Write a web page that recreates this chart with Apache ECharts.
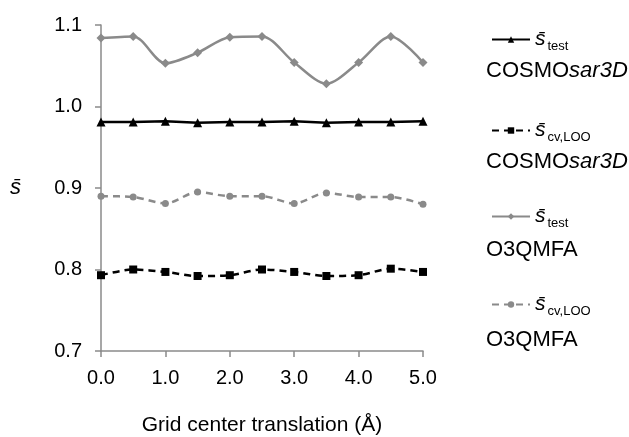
<!DOCTYPE html>
<html>
<head>
<meta charset="utf-8">
<script src="https://cdn.jsdelivr.net/npm/echarts@6/dist/echarts.min.js"></script>
<style>
html, body { margin: 0; padding: 0; background: #fff; }
#chart { width: 629px; height: 437px; }
</style>
</head>
<body>
<div id="chart"></div>
<script>
// grid translation steps (Å)
var shifts = [0, 0.5, 1, 1.5, 2, 2.5, 3, 3.5, 4, 4.5, 5];
var cosmoTest = [0.981, 0.981, 0.982, 0.980, 0.981, 0.981, 0.982, 0.980, 0.981, 0.981, 0.982];
var cosmoLoo  = [0.793, 0.800, 0.797, 0.792, 0.793, 0.800, 0.797, 0.792, 0.793, 0.801, 0.797];
var o3Test    = [1.084, 1.086, 1.053, 1.066, 1.085, 1.086, 1.054, 1.028, 1.054, 1.086, 1.054];
var o3Loo     = [0.890, 0.889, 0.881, 0.895, 0.890, 0.890, 0.881, 0.894, 0.889, 0.889, 0.880];

var FONT = '"Liberation Sans", Arial, sans-serif';
var GREY = '#8a8a8a';
var SBAR = 's\u0304';

function pairs(ys){
    return shifts.map(function(x, i){ return [x, ys[i]]; });
}

var chart = echarts.init(document.getElementById('chart'));

var subRich = {
    s: { fontFamily: FONT, fontStyle: 'italic', fontSize: 21, color: '#000', padding: [0, 2, 0, 0] },
    sub: { fontFamily: FONT, fontSize: 13, color: '#000', padding: [13, 0, 0, 0] }
};

function makeLegend(name, top){
    return {
        data: [name],
        left: 486,
        top: top,
        itemWidth: 38,
        itemHeight: 8,
        itemGap: 0,
        selectedMode: false,
        textStyle: { rich: subRich },
        formatter: function(n){
            return '{s|' + SBAR + '}{sub|' + (n.indexOf('LOO') >= 0 ? 'cv,LOO' : 'test') + '}';
        }
    };
}

var methodRich = {
    a: { fontFamily: FONT, fontSize: 22, fill: '#000' },
    b: { fontFamily: FONT, fontSize: 22, fontStyle: 'italic', fill: '#000' }
};

var option = {
    animation: false,
    backgroundColor: '#fff',
    textStyle: { fontFamily: FONT },
    grid: { left: 101, right: 206, top: 25, bottom: 86, outerBoundsMode: 'none', containLabel: false },
    legend: [
        makeLegend('COSMO test', 24),
        makeLegend('COSMO LOO', 115),
        makeLegend('O3QMFA test', 201),
        makeLegend('O3QMFA LOO', 289)
    ],
    graphic: [
        { type: 'text', left: 486, top: 60, style: { rich: methodRich, text: '{a|COSMO}{b|sar3D}' } },
        { type: 'text', left: 486, top: 151, style: { rich: methodRich, text: '{a|COSMO}{b|sar3D}' } },
        { type: 'text', left: 486, top: 239, style: { rich: methodRich, text: '{a|O3QMFA}' } },
        { type: 'text', left: 486, top: 329, style: { rich: methodRich, text: '{a|O3QMFA}' } }
    ],
    xAxis: {
        type: 'value',
        min: 0, max: 5, interval: 1,
        name: 'Grid center translation (\u00C5)',
        nameLocation: 'middle',
        nameGap: 64,
        nameTextStyle: { fontFamily: FONT, fontSize: 21, color: '#000' },
        axisLine: { lineStyle: { color: GREY, width: 1.5 } },
        axisTick: { show: true, length: 6, lineStyle: { color: GREY, width: 1.5 } },
        axisLabel: { fontFamily: FONT, fontSize: 20, color: '#000', margin: 17,
            formatter: function(v){ return v.toFixed(1); } },
        splitLine: { show: false }
    },
    yAxis: {
        type: 'value',
        min: 0.7, max: 1.1, interval: 0.1,
        name: SBAR,
        nameLocation: 'middle',
        nameRotate: 0,
        nameGap: 80,
        nameTextStyle: { fontFamily: FONT, fontSize: 22, fontStyle: 'italic', color: '#000' },
        axisLine: { show: true, lineStyle: { color: GREY, width: 1.5 } },
        axisTick: { show: true, length: 6, lineStyle: { color: GREY, width: 1.5 } },
        axisLabel: { fontFamily: FONT, fontSize: 20, color: '#000', margin: 19,
            formatter: function(v){ return v.toFixed(1); } },
        splitLine: { show: false }
    },
    series: [
        {
            name: 'COSMO test', type: 'line', data: pairs(cosmoTest),
            symbol: 'triangle', symbolSize: 9,
            lineStyle: { color: '#000', width: 2.5 },
            itemStyle: { color: '#000' }
        },
        {
            name: 'COSMO LOO', type: 'line', data: pairs(cosmoLoo), smooth: 0.3,
            symbol: 'rect', symbolSize: 8,
            lineStyle: { color: '#000', width: 2.5, type: [7, 5] },
            itemStyle: { color: '#000' }
        },
        {
            name: 'O3QMFA test', type: 'line', data: pairs(o3Test), smooth: 0.3,
            symbol: 'diamond', symbolSize: 9,
            lineStyle: { color: GREY, width: 2.5 },
            itemStyle: { color: GREY }
        },
        {
            name: 'O3QMFA LOO', type: 'line', data: pairs(o3Loo), smooth: 0.3,
            symbol: 'circle', symbolSize: 7,
            lineStyle: { color: GREY, width: 2.5, type: [7, 5] },
            itemStyle: { color: GREY }
        }
    ]
};
chart.setOption(option);
</script>
</body>
</html>
